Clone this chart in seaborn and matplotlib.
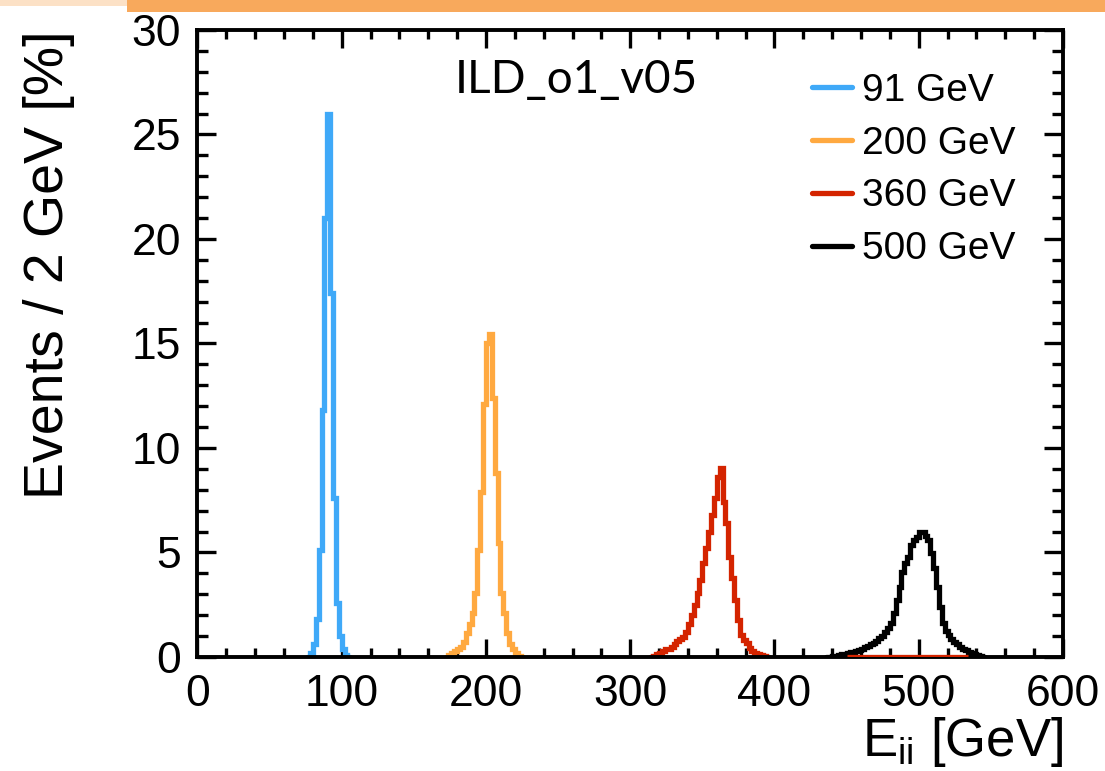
import numpy as np
import pandas as pd
import matplotlib
matplotlib.use("Agg")
import matplotlib.pyplot as plt
import seaborn as sns
from matplotlib.lines import Line2D
from matplotlib.patches import Rectangle
from matplotlib.ticker import MultipleLocator

# Reconstructed di-jet energy spectra, percent of events per 2 GeV bin
BIN_WIDTH = 2.0

labels = ["91 GeV", "200 GeV", "360 GeV", "500 GeV"]
colors = ["#3FA9F8", "#FFA940", "#D42400", "#000000"]

e91_first_edge = 76
e91_pct = [0, 0.2, 0.6, 1.8, 5.1, 11.8, 21.0, 26.0, 17.4, 7.6, 2.6, 1.0, 0.4, 0.1, 0]

e200_first_edge = 172
e200_pct = [0, 0.1, 0.2, 0.3, 0.4, 0.5, 0.73, 1.15, 1.6, 2.1, 3.06, 5.1, 7.9,
            12.1, 15.0, 15.45, 12.4, 8.8, 5.45, 3.06, 2.1, 1.15, 0.6, 0.4, 0.2,
            0.05, 0]

e360_first_edge = 314
e360_pct = [0, 0.05, 0.12, 0.2, 0.3, 0.37, 0.4, 0.49, 0.6, 0.78, 0.85, 0.97,
            1.2, 1.6, 2.0, 2.5, 3.05, 3.7, 4.48, 5.2, 6.0, 6.8, 7.6, 8.63, 9.03,
            7.43, 6.4, 4.8, 3.77, 2.73, 1.77, 1.05, 0.8, 0.65, 0.45, 0.3, 0.2,
            0.15, 0.1, 0.05, 0]
# empty 360 GeV bins lying on the baseline under the 500 GeV peak
e360_empty_span = [450, 534]

e500_first_edge = 436
e500_pct = [0, 0.02, 0.04, 0.06, 0.09, 0.12, 0.15, 0.18, 0.22, 0.26, 0.3, 0.35,
            0.4, 0.46, 0.52, 0.6, 0.68, 0.78, 0.89, 1.0, 1.21, 1.4, 1.61, 2.09,
            2.73, 3.36, 4.08, 4.5, 4.8, 5.36, 5.6, 5.76, 6.0, 6.0, 5.8, 5.6,
            4.96, 4.24, 3.36, 2.41, 1.61, 1.25, 1.05, 0.85, 0.73, 0.6, 0.49,
            0.4, 0.33, 0.26, 0.2, 0.12, 0.08, 0.04, 0]

series = [
    (e91_first_edge, e91_pct),
    (e200_first_edge, e200_pct),
    (e360_first_edge, e360_pct),
    (e500_first_edge, e500_pct),
]

sns.set_theme(style="ticks")
plt.rcParams["font.family"] = ["Liberation Sans", "DejaVu Sans"]
plt.rcParams["text.color"] = "black"
plt.rcParams["axes.labelcolor"] = "black"
plt.rcParams["mathtext.fontset"] = "custom"
plt.rcParams["mathtext.rm"] = "Liberation Sans"
plt.rcParams["mathtext.it"] = "Liberation Sans"

fig = plt.figure(figsize=(11.05, 7.71), dpi=100)
fig.patch.set_facecolor("white")
ax = fig.add_axes([0.1787, 0.1479, 0.7833, 0.8132])

LW = 3.8
for (first_edge, pct), label, color in zip(series, labels, colors):
    n = len(pct)
    edges = first_edge + BIN_WIDTH * np.arange(n + 1)
    centers = edges[:-1] + BIN_WIDTH / 2
    df = pd.DataFrame({"E": centers, "pct": pct})
    sns.histplot(data=df, x="E", weights="pct", bins=edges.tolist(),
                 element="step", fill=False, color=color, linewidth=LW,
                 ax=ax, label=label, solid_joinstyle="miter")

ax.plot(e360_empty_span, [0, 0], color=colors[2], linewidth=LW, zorder=3,
        solid_capstyle="butt")

ax.set_xlim(0, 600)
ax.set_ylim(0, 30)
ax.xaxis.set_major_locator(MultipleLocator(100))
ax.xaxis.set_minor_locator(MultipleLocator(20))
ax.yaxis.set_major_locator(MultipleLocator(5))
ax.yaxis.set_minor_locator(MultipleLocator(1))

for side in ["left", "right", "top", "bottom"]:
    ax.spines[side].set_visible(True)
    ax.spines[side].set_linewidth(2.8)
    ax.spines[side].set_color("black")

ax.tick_params(which="both", direction="in", top=True, right=True,
               width=2.4, color="black", labelsize=32, labelcolor="black")
ax.tick_params(axis="x", which="major", length=13, pad=12)
ax.tick_params(axis="x", which="minor", length=6.7)
ax.tick_params(axis="y", which="major", length=14, pad=12)
ax.tick_params(axis="y", which="minor", length=8)

ax.set_ylabel("Events / 2 GeV [%]", fontsize=40, loc="top")
ax.yaxis.set_label_coords(-0.142, 1.0)
ax.set_xlabel(r"E$_{\mathregular{ii}}$ [GeV]", fontsize=38, loc="right")
ax.xaxis.set_label_coords(1.0, -0.092)

ax.text(0.2975, 0.899, "ILD_o1_v05", transform=ax.transAxes, fontsize=33,
        family=["Lato", "DejaVu Sans"], va="baseline", ha="left")

handles = [Line2D([], [], color=c, linewidth=LW) for c in colors]
leg = ax.legend(handles, labels, loc="upper left", frameon=False, fontsize=28,
                bbox_to_anchor=(811.7 / 1105, 1 - 73 / 771),
                bbox_transform=fig.transFigure, borderpad=0, borderaxespad=0,
                handlelength=1.03, handletextpad=0.26, labelspacing=0.43)
for t in leg.get_texts():
    t.set_color("black")

# brush-stroke strip along the top edge
H = 771.0
fig.add_artist(Rectangle((127 / 1105, 1 - 12 / H), 1 - 127 / 1105, 12 / H,
                         transform=fig.transFigure, color="#F8A95C",
                         linewidth=0, zorder=10))
fig.add_artist(Rectangle((0, 1 - 6 / H), 127 / 1105, 6 / H,
                         transform=fig.transFigure, color="#F8A95C",
                         alpha=0.35, linewidth=0, zorder=10))

fig.savefig("out.png", dpi=100, facecolor="white")
